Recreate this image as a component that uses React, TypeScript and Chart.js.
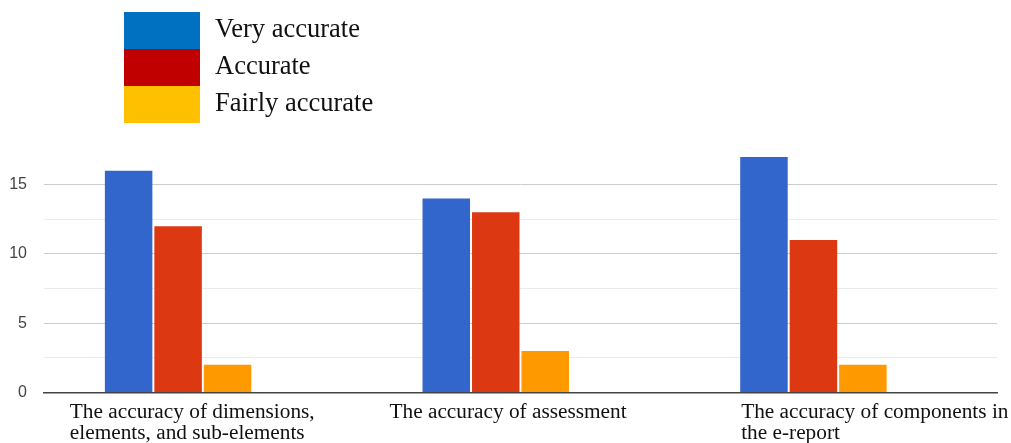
import React, { useEffect, useRef } from "react";
import { Chart, registerables } from "chart.js";

Chart.register(...registerables);

const categories: string[][] = [
  ["The accuracy of dimensions,", "elements, and sub-elements"],
  ["The accuracy of assessment"],
  ["The accuracy of components in", "the e-report"],
];
const seriesNames = ["Very accurate", "Accurate", "Fairly accurate"];
const veryAccurate = [16, 14, 17];
const accurate = [12, 13, 11];
const fairlyAccurate = [2, 3, 2];
const emptySeries: (number | null)[] = [null, null, null];
const barColors = ["#3366CC", "#DC3912", "#FF9900"];
const legendColors = ["#0070C0", "#C00000", "#FFC000"];
const yTickLabels = [0, 5, 10, 15];

// layout constants (not data)
const labelShift = [-133, -131, -97];
const SERIF = "'Liberation Serif', 'Times New Roman', serif";

const legendPlugin = {
  id: "customLegend",
  afterDraw(chart: any) {
    const ctx = chart.ctx as CanvasRenderingContext2D;
    ctx.save();
    const boxX = 124, boxY = 12, boxW = 76, boxH = 37;
    seriesNames.forEach((name, i) => {
      ctx.fillStyle = legendColors[i];
      ctx.fillRect(boxX, boxY + i * boxH, boxW, boxH);
      ctx.fillStyle = "#111";
      ctx.font = `26.5px ${SERIF}`;
      ctx.textAlign = "left";
      ctx.textBaseline = "alphabetic";
      ctx.fillText(name, 215, boxY + i * boxH + 25);
    });
    ctx.restore();
  },
};

const xLabelPlugin = {
  id: "xLabels",
  afterDraw(chart: any) {
    const ctx = chart.ctx as CanvasRenderingContext2D;
    const xs = chart.scales.x;
    const base = chart.chartArea.bottom;
    ctx.save();
    ctx.fillStyle = "#111";
    ctx.font = `21.3px ${SERIF}`;
    ctx.textAlign = "left";
    ctx.textBaseline = "alphabetic";
    categories.forEach((lines, i) => {
      const x = xs.getPixelForTick(i) + labelShift[i];
      lines.forEach((line, j) => {
        ctx.fillText(line, x, base + 25 + j * 21);
      });
    });
    ctx.restore();
  },
};

export default function App() {
  const ref = useRef<HTMLCanvasElement>(null);
  useEffect(() => {
    if (!ref.current) return;
    const values = [veryAccurate, accurate, fairlyAccurate];
    const chart = new Chart(ref.current, {
      type: "bar",
      data: {
        labels: categories.map((c) => c.join(" ")),
        datasets: [
          ...values.map((v, i) => ({
            label: seriesNames[i],
            data: v,
            backgroundColor: barColors[i],
            borderWidth: 0,
            categoryPercentage: 0.623,
            barPercentage: 0.96,
          })),
          {
            label: "",
            data: emptySeries,
            backgroundColor: "transparent",
            borderWidth: 0,
            categoryPercentage: 0.623,
            barPercentage: 0.96,
          },
        ],
      },
      options: {
        animation: false,
        responsive: false,
        maintainAspectRatio: false,
        devicePixelRatio: 1,
        layout: { padding: { top: 150, right: 14, left: 0, bottom: 0 } },
        plugins: {
          legend: { display: false },
          tooltip: { enabled: false },
          title: { display: false },
        },
        scales: {
          x: {
            grid: { display: false },
            border: { display: true, color: "#444", width: 1.5 },
            ticks: { display: false },
            afterFit: (s: any) => {
              s.height = 50.5;
            },
          },
          y: {
            min: 0,
            max: 17.5,
            border: { display: false },
            grid: {
              drawTicks: false,
              color: (ctx: any) => {
                const v = ctx.tick?.value;
                if (v === 0 || v === 17.5) return "transparent";
                return v % 5 === 0 ? "#cccccc" : "#ebebeb";
              },
              lineWidth: 1,
            },
            ticks: {
              stepSize: 2.5,
              padding: 17,
              color: "#444",
              font: { family: "'Liberation Sans', Arial, sans-serif", size: 16 },
              callback: (v: any) => (yTickLabels.includes(Number(v)) ? String(v) : ""),
            },
            afterFit: (s: any) => {
              s.width = 44;
            },
          },
        },
      },
      plugins: [legendPlugin, xLabelPlugin],
    });
    return () => chart.destroy();
  }, []);
  return (
    <div style={{ position: "fixed", left: 0, top: 0, width: 1011, height: 443, background: "#fff" }}>
      <canvas ref={ref} width={1011} height={443} style={{ width: 1011, height: 443 }} />
    </div>
  );
}
